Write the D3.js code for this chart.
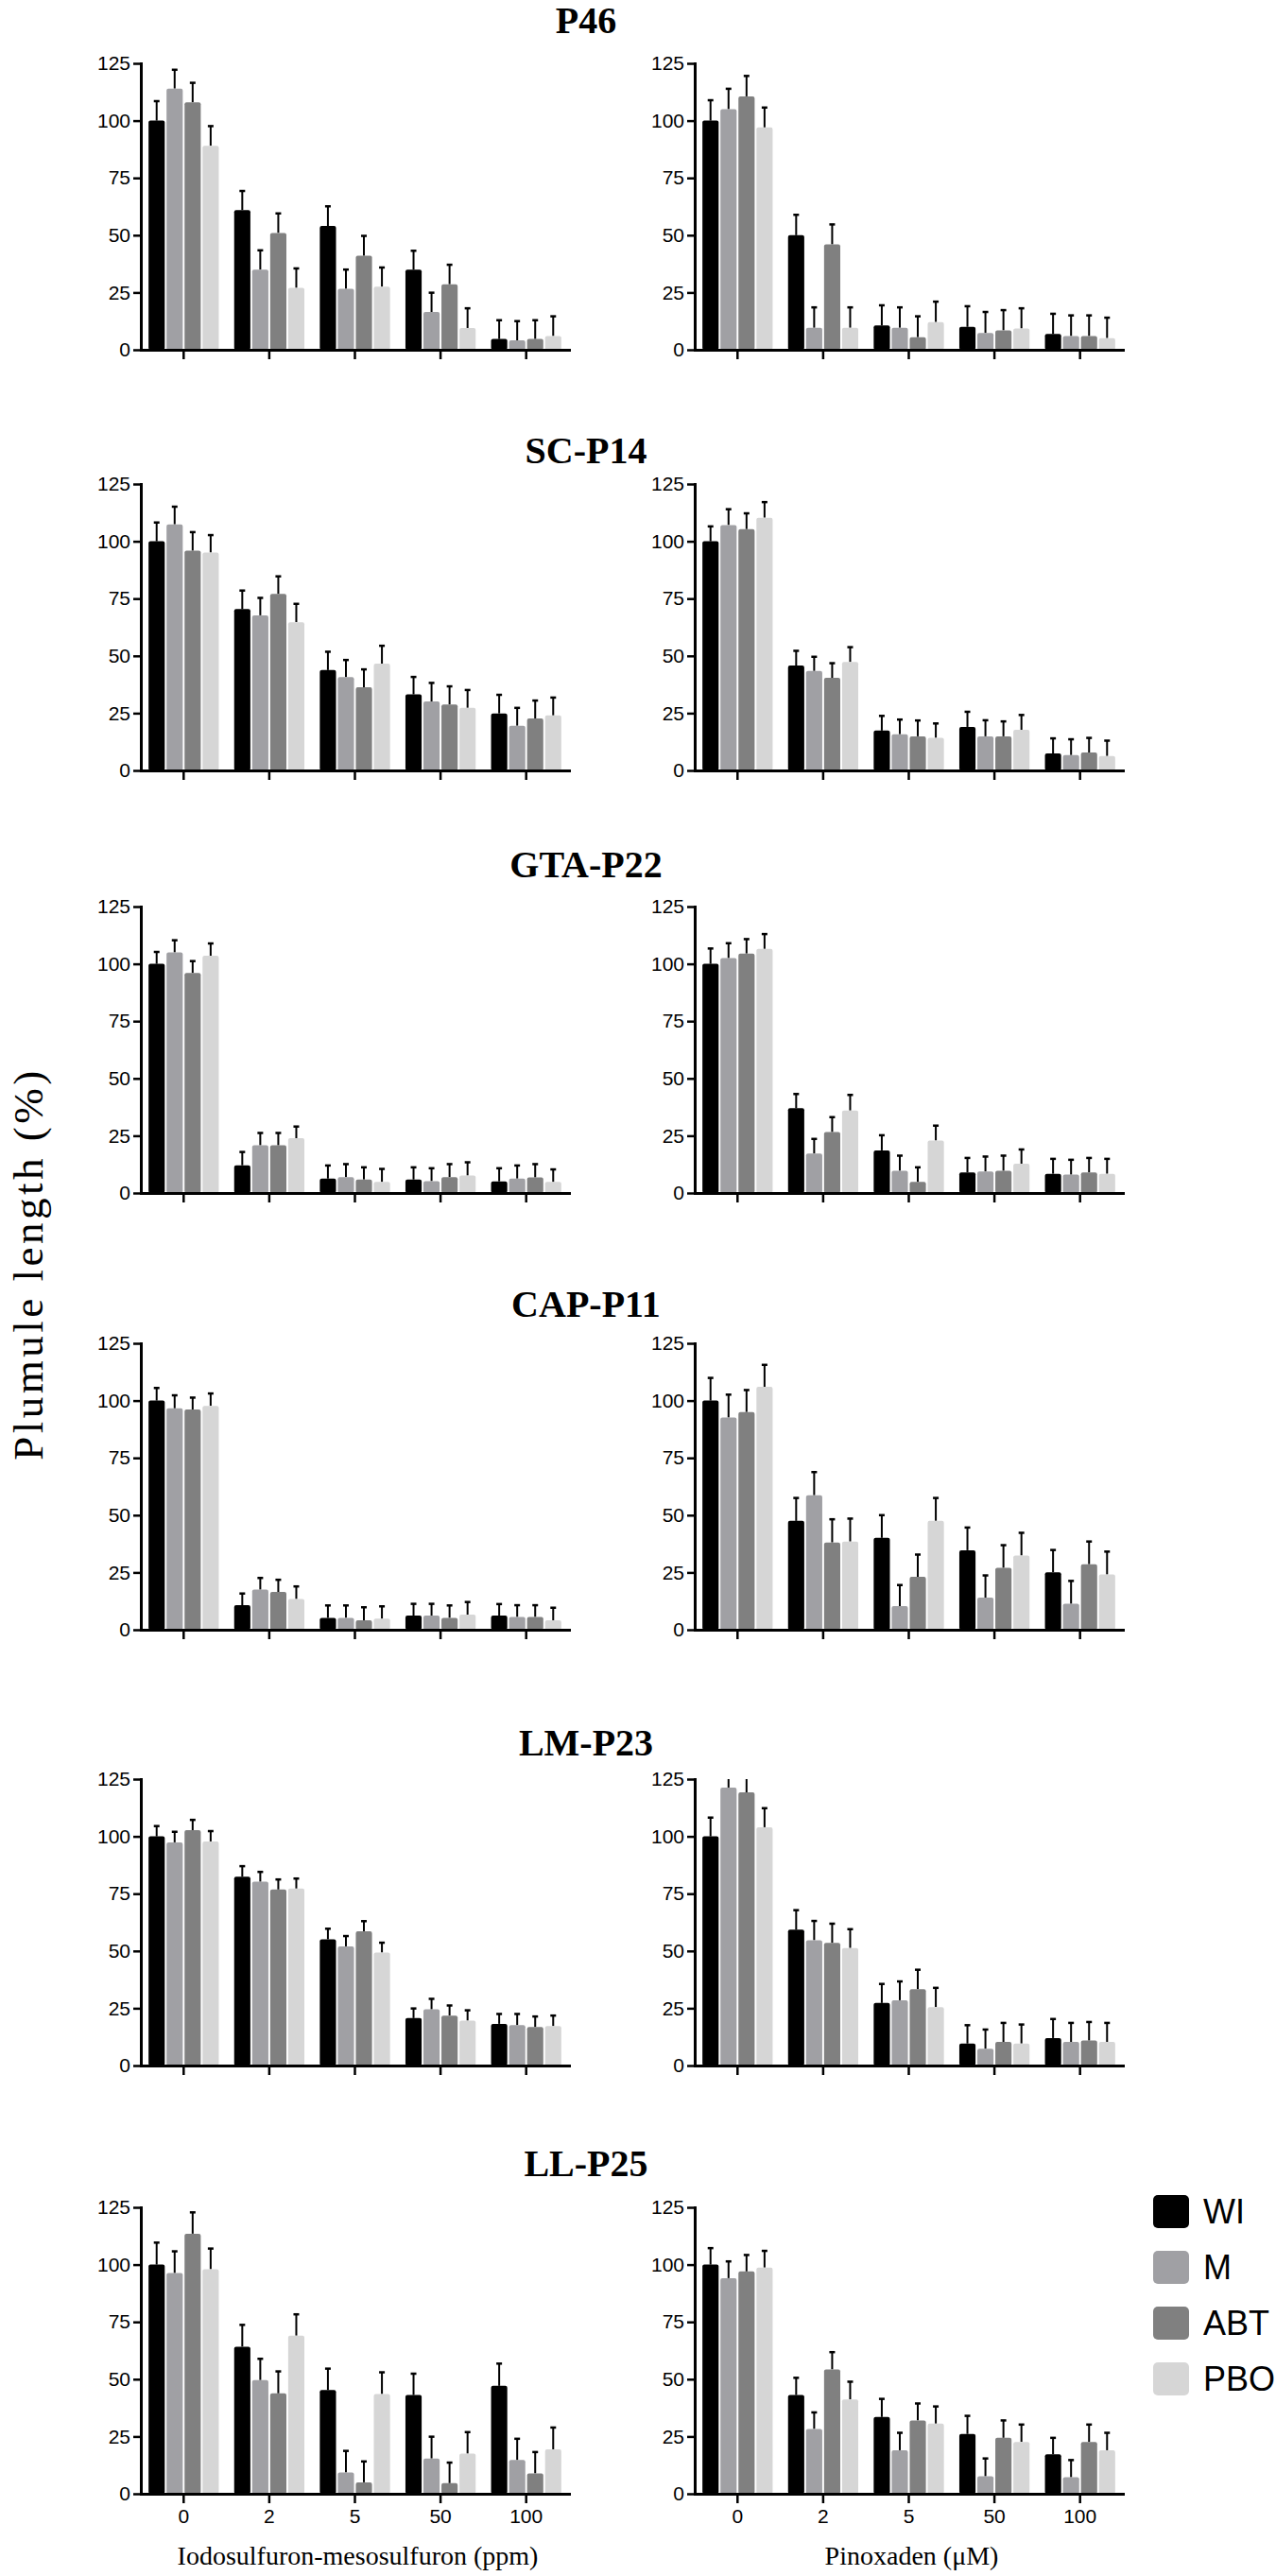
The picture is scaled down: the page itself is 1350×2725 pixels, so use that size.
<!DOCTYPE html>
<html>
<head>
<meta charset="utf-8">
<script src="https://cdn.jsdelivr.net/npm/d3@7"></script>
<style>
  body { margin: 0; background: #fff; }
</style>
</head>
<body>
<div id="chart"></div>
<script>
// populations (one row each), doses, treatments
var populations = ["P46", "SC-P14", "GTA-P22", "CAP-P11", "LM-P23", "LL-P25"];
var doses = ["0", "2", "5", "50", "100"];
var treatments = ["WI", "M", "ABT", "PBO"];
var yTicks = [0, 25, 50, 75, 100, 125];
var xTitles = ["Iodosulfuron-mesosulfuron (ppm)", "Pinoxaden (\u03bcM)"];
var yTitle = "Plumule length (%)";

// means[population][treatment][dose]
var iodoMeans = [
  [[100, 61, 54, 35, 4.7], [114, 35, 26.6, 16.5, 4.1], [108, 51, 41, 28.6, 4.7], [89, 27, 27.5, 9.5, 6]],
  [[100, 70.4, 43.8, 33.2, 24.9], [107.4, 67.7, 40.7, 30.1, 19.5], [95.9, 77, 36.3, 28.8, 22.7], [95.1, 64.7, 46.6, 27.3, 24]],
  [[100, 12.1, 6.3, 5.9, 5.1], [105, 20.8, 6.9, 5.2, 6.3], [96, 20.8, 5.9, 6.9, 6.8], [103.5, 23.9, 4.8, 7.6, 4.8]],
  [[100, 10.7, 5.2, 6.2, 6.2], [96.6, 17.5, 5.2, 6.2, 5.6], [96.1, 16.5, 4.1, 5.2, 5.6], [97.7, 13.4, 4.8, 6.6, 4.1]],
  [[100, 82.4, 55.1, 20.7, 18.2], [97.4, 80.2, 52, 24.5, 17.6], [102.7, 76.8, 58.6, 21.8, 16.8], [97.8, 77.2, 49.3, 19.6, 17.2]],
  [[100, 64.2, 45.3, 43.1, 47.1], [96.3, 49.6, 9.3, 15.4, 14.7], [113.5, 43.8, 5, 4.6, 8.9], [98, 69, 43.5, 17.5, 19.4]]
];
var iodoErrors = [
  [[8.5, 8.3, 8.6, 8.2, 8.2], [8.2, 8.4, 8.4, 8.4, 8.4], [8.5, 8.5, 8.7, 8.5, 8.2], [8.6, 8.5, 8.4, 8.6, 8.6]],
  [[8.2, 8.1, 8, 7.6, 8.1], [7.7, 7.6, 7.5, 8.1, 7.8], [8.1, 7.7, 7.8, 7.9, 7.8], [7.6, 8, 7.8, 7.8, 7.8]],
  [[5.2, 5.8, 5.7, 5.3, 5.7], [5.3, 5.4, 5.7, 5.6, 5.7], [5.2, 5.4, 5.3, 5.7, 5.8], [5.4, 5.1, 5.7, 5.8, 5.5]],
  [[5.5, 5.1, 5.4, 5.1, 5], [5.7, 5.1, 5.4, 5.1, 5.1], [5.2, 5.3, 5.7, 5.4, 5.1], [5.4, 5.5, 5.4, 5.5, 5.5]],
  [[4.5, 4.6, 4.6, 4.2, 4.3], [4.6, 4.3, 4.5, 4.6, 4.9], [4.5, 4.4, 4.4, 4.4, 4.6], [4.5, 4.4, 4.3, 4.5, 4.6]],
  [[9.6, 9.5, 9.3, 9.3, 9.7], [9.5, 9.3, 9.4, 9.5, 9.3], [9.3, 9.6, 9.1, 9, 9.3], [9, 9.3, 9.5, 9.4, 9.5]]
];
var pinoMeans = [
  [[100, 50, 10.6, 10, 6.9], [105, 9.6, 9.6, 7.3, 6], [110.6, 46, 5.5, 8.5, 6], [97, 9.6, 12.1, 9.3, 5.1]],
  [[100, 45.8, 17.4, 19, 7.4], [107.1, 43.4, 15.8, 14.9, 6.7], [105.3, 40.4, 14.9, 14.9, 7.8], [110.3, 47.3, 14.2, 17.7, 6.3]],
  [[100, 37, 18.6, 9, 8.4], [102.5, 17.2, 9.7, 9.4, 8], [104.5, 26.6, 4.8, 9.7, 9], [106.5, 36, 22.9, 12.8, 8.4]],
  [[100, 47.5, 40.1, 34.7, 25.1], [92.6, 58.7, 10.3, 14, 11.3], [95, 38.1, 23.1, 27, 28.6], [106, 38.5, 47.5, 32.4, 24.1]],
  [[100, 59.3, 27.3, 9.6, 12], [121.3, 54.7, 28.5, 7.3, 10.3], [119.2, 53.5, 33.3, 10.3, 10.9], [104, 51.3, 25.5, 9.6, 10.3]],
  [[100, 43.1, 33.5, 26.1, 17.2], [94.1, 28.3, 19, 7.6, 7.2], [97, 54.3, 32, 24.4, 22.6], [98.7, 41.2, 30.6, 22.6, 19]]
];
var pinoErrors = [
  [[8.9, 8.9, 8.8, 9, 8.8], [8.9, 8.9, 8.9, 9.2, 9], [8.9, 8.7, 9.1, 8.8, 9], [8.7, 8.9, 8.9, 8.8, 8.9]],
  [[6.5, 6.4, 6.4, 6.6, 6.6], [6.9, 6.2, 6.4, 7, 6.9], [6.9, 6.4, 6.9, 6.5, 6.4], [6.8, 6.5, 6.3, 6.5, 6.7]],
  [[6.7, 6.2, 6.6, 6.3, 6.5], [6.5, 6.4, 6.6, 6.5, 6.5], [6.3, 6.5, 6.4, 6.6, 6.3], [6.5, 6.8, 6.5, 6.2, 6.5]],
  [[9.9, 10, 9.9, 9.9, 9.7], [10, 10.1, 9.2, 9.7, 10], [9.6, 10.1, 9.7, 9.9, 9.9], [9.6, 10, 10, 9.9, 10]],
  [[8.2, 8.5, 8.3, 8, 8.3], [8, 8.4, 8.2, 8.4, 8.3], [8, 8.4, 8.5, 8.3, 8.1], [8.3, 8.2, 8.4, 8.3, 8.3]],
  [[7.2, 7.5, 7.9, 7.9, 7.2], [7.3, 7.2, 7.6, 7.8, 7.5], [7.2, 7.5, 7.4, 7.6, 7.6], [7.3, 7.7, 7.5, 7.6, 7.6]]
];

var colors = ["#000000", "#a0a0a4", "#808080", "#d6d6d6"];

var svgWidth = 1350;
var svgHeight = 2725;
var rowTops = [67, 512, 959, 1421, 1882, 2335];
var titleYs = [35, 490, 928, 1393, 1857, 2302];
var panelH = 303;
var panelX = [[149, 602], [735, 1188]];
var sansFont = "'Liberation Sans', Arial, sans-serif";
var serifFont = "'Liberation Serif', 'Times New Roman', serif";

var svg = d3.select("#chart")
  .append("svg")
  .attr("width", svgWidth)
  .attr("height", svgHeight)
  .style("background", "#fff");

function drawPanel(means, errors, xr, top, showX, xTitle) {
  var g = svg.append("g");
  var y = d3.scaleLinear().domain([0, 125]).range([top + panelH, top]);
  var xg = d3.scaleBand().domain(doses).range(xr).paddingInner(0.18).paddingOuter(0.09);
  var xs = d3.scaleBand().domain(treatments).range([0, xg.bandwidth()]).paddingInner(0.1);

  var bars = [];
  treatments.forEach(function(t, ti) {
    doses.forEach(function(d, di) {
      bars.push({t: t, ti: ti, d: d, v: means[ti][di], e: errors[ti][di]});
    });
  });

  // error bars (upper only), clipped at the axis maximum
  g.selectAll(".err")
    .data(bars)
    .enter()
    .append("line")
    .attr("x1", function(b) { return xg(b.d) + xs(b.t) + xs.bandwidth() / 2; })
    .attr("x2", function(b) { return xg(b.d) + xs(b.t) + xs.bandwidth() / 2; })
    .attr("y1", function(b) { return y(b.v); })
    .attr("y2", function(b) { return y(Math.min(b.v + b.e, 125)); })
    .attr("stroke", "#000")
    .attr("stroke-width", 2);

  g.selectAll(".cap")
    .data(bars.filter(function(b) { return b.v + b.e <= 125; }))
    .enter()
    .append("line")
    .attr("x1", function(b) { return xg(b.d) + xs(b.t) + xs.bandwidth() / 2 - 3; })
    .attr("x2", function(b) { return xg(b.d) + xs(b.t) + xs.bandwidth() / 2 + 3; })
    .attr("y1", function(b) { return y(b.v + b.e); })
    .attr("y2", function(b) { return y(b.v + b.e); })
    .attr("stroke", "#000")
    .attr("stroke-width", 2.5);

  g.selectAll(".bar")
    .data(bars)
    .enter()
    .append("rect")
    .attr("x", function(b) { return xg(b.d) + xs(b.t); })
    .attr("width", xs.bandwidth())
    .attr("y", function(b) { return y(b.v); })
    .attr("height", function(b) { return y(0) - y(b.v); })
    .attr("rx", 2)
    .attr("fill", function(b) { return colors[b.ti]; });

  var yAxis = g.append("g")
    .attr("transform", "translate(" + xr[0] + ",0)")
    .call(d3.axisLeft(y).tickValues(yTicks).tickSize(8).tickSizeOuter(0).tickPadding(3));
  yAxis.selectAll("text")
    .attr("font-family", sansFont)
    .attr("font-size", "21px")
    .attr("fill", "#000");

  var xAxis = g.append("g")
    .attr("transform", "translate(0," + y(0) + ")")
    .call(d3.axisBottom(xg).tickSize(10).tickSizeOuter(0).tickPadding(6));
  xAxis.selectAll("text")
    .attr("font-family", sansFont)
    .attr("font-size", "21px")
    .attr("fill", "#000")
    .style("display", showX ? null : "none");

  g.selectAll(".domain")
    .attr("stroke", "#000")
    .attr("stroke-width", 3)
    .attr("stroke-linecap", "square");
  g.selectAll(".tick line")
    .attr("stroke", "#000")
    .attr("stroke-width", 2.5);

  if (showX) {
    g.append("text")
      .attr("x", (xr[0] + xr[1]) / 2 + 3)
      .attr("y", top + panelH + 75)
      .attr("text-anchor", "middle")
      .attr("font-family", serifFont)
      .attr("font-size", "28px")
      .attr("fill", "#000")
      .text(xTitle);
  }
}

populations.forEach(function(pop, pi) {
  var last = pi === populations.length - 1;
  drawPanel(iodoMeans[pi], iodoErrors[pi], panelX[0], rowTops[pi], last, xTitles[0]);
  drawPanel(pinoMeans[pi], pinoErrors[pi], panelX[1], rowTops[pi], last, xTitles[1]);

  svg.append("text")
    .attr("x", 620)
    .attr("y", titleYs[pi])
    .attr("text-anchor", "middle")
    .attr("font-family", serifFont)
    .attr("font-weight", "bold")
    .attr("font-size", "40px")
    .attr("fill", "#000")
    .text(pop);
});

// y axis title
svg.append("text")
  .attr("transform", "translate(45,1337) rotate(-90)")
  .attr("text-anchor", "middle")
  .attr("font-family", serifFont)
  .attr("font-size", "45px")
  .attr("letter-spacing", "3.5px")
  .attr("fill", "#000")
  .text(yTitle);

// legend
var legend = svg.append("g").attr("transform", "translate(1220,2322)");
treatments.forEach(function(t, i) {
  legend.append("rect")
    .attr("x", 0)
    .attr("y", i * 59)
    .attr("width", 38)
    .attr("height", 35)
    .attr("rx", 5)
    .attr("fill", colors[i]);
  legend.append("text")
    .attr("x", 53)
    .attr("y", i * 59 + 30)
    .attr("font-family", sansFont)
    .attr("font-size", "36px")
    .attr("fill", "#000")
    .text(t);
});
</script>
</body>
</html>
